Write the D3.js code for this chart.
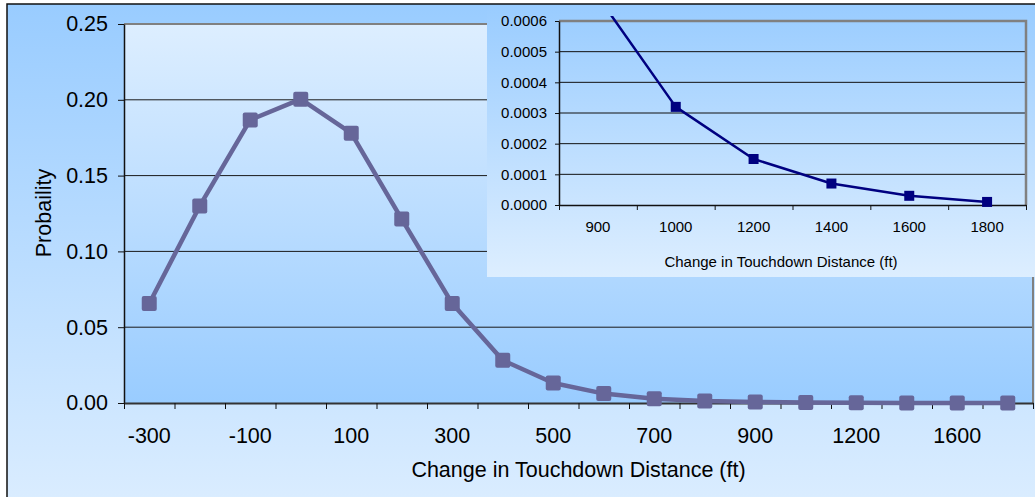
<!DOCTYPE html>
<html>
<head>
<meta charset="utf-8">
<script src="https://cdn.jsdelivr.net/npm/d3@7"></script>
<style>
  body { margin: 0; background: #ffffff; }
  svg { display: block; font-family: "Liberation Sans", Arial, sans-serif; }
</style>
</head>
<body>
<svg id="chart" width="1035" height="497"></svg>
<script>
// ---- Data ----
const categories = [-300, -200, -100, 0, 100, 200, 300, 400, 500, 600, 700, 800, 900, 1000, 1200, 1400, 1600, 1800];
const probability = [0.0656, 0.130, 0.1867, 0.2004, 0.178, 0.1213, 0.0656, 0.0282, 0.0132, 0.0062, 0.0028, 0.0013, 0.00068, 0.00032, 0.00015, 0.00007, 0.00003, 0.00001];
const yTicks = [0, 0.05, 0.10, 0.15, 0.20, 0.25];
const xLabelCats = [-300, -100, 100, 300, 500, 700, 900, 1200, 1600];

const insetCategories = [900, 1000, 1200, 1400, 1600, 1800];
const insetProbability = [0.00068, 0.00032, 0.00015, 0.00007, 0.00003, 0.00001];
const insetYTicks = [0, 0.0001, 0.0002, 0.0003, 0.0004, 0.0005, 0.0006];

const xTitle = "Change in Touchdown Distance (ft)";
const yTitle = "Probaility";

// ---- Setup ----
const FS = 21.5, IFS = 15;
const svg = d3.select("#chart");
const defs = svg.append("defs");

function vGrad(id, top, bottom) {
  const g = defs.append("linearGradient").attr("id", id)
    .attr("x1", 0).attr("y1", 0).attr("x2", 0).attr("y2", 1);
  g.append("stop").attr("offset", "0%").attr("stop-color", top);
  g.append("stop").attr("offset", "100%").attr("stop-color", bottom);
}
vGrad("chartBg", "#99ccff", "#ddeeff");
vGrad("plotBg", "#ddeeff", "#99ccff");
vGrad("insetBg", "#99ccff", "#ddeeff");

// Main chart area
svg.append("rect").attr("x", 7).attr("y", 4).attr("width", 1100).attr("height", 520)
  .attr("fill", "url(#chartBg)").attr("stroke", "#111").attr("stroke-width", 1.5);

const M = { left: 124, right: 1033, top: 24, bottom: 403 };
const x = d3.scaleBand().domain(categories).range([M.left, M.right]).padding(0);
const y = d3.scaleLinear().domain([0, 0.25]).range([M.bottom, M.top]);

svg.append("rect").attr("x", M.left).attr("y", M.top)
  .attr("width", M.right - M.left).attr("height", M.bottom - M.top)
  .attr("fill", "url(#plotBg)");

// gridlines
svg.append("g").selectAll("line").data(yTicks.filter(d => d > 0 && d < 0.25)).join("line")
  .attr("x1", M.left).attr("x2", M.right)
  .attr("y1", d => y(d)).attr("y2", d => y(d))
  .attr("stroke", "#1a1a1a").attr("stroke-width", 1);
// top & right border
svg.append("path")
  .attr("d", `M${M.left},${M.top}H${M.right}V${M.bottom}`)
  .attr("fill", "none").attr("stroke", "#808080").attr("stroke-width", 2);

// y axis
const yAxis = svg.append("g").attr("transform", `translate(${M.left},0)`)
  .call(d3.axisLeft(y).tickValues(yTicks).tickFormat(d3.format(".2f")).tickSize(6).tickPadding(10).tickSizeOuter(0));
yAxis.select(".domain").attr("stroke", "#111").attr("stroke-width", 1.5);
yAxis.selectAll(".tick line").attr("stroke", "#111");
yAxis.selectAll("text").attr("font-size", FS).attr("fill", "#000").attr("font-family", "Liberation Sans, Arial, sans-serif");

// x axis: boundary ticks
const xi = d3.scaleLinear().domain([0, categories.length]).range([M.left, M.right]);
const xTickAxis = svg.append("g").attr("transform", `translate(0,${M.bottom})`)
  .call(d3.axisBottom(xi).tickValues(d3.range(categories.length + 1)).tickFormat("").tickSize(6).tickSizeOuter(0));
xTickAxis.select(".domain").attr("stroke", "#333").attr("stroke-width", 2);
xTickAxis.selectAll(".tick line").attr("stroke", "#111");
// x axis labels
const xLab = svg.append("g").attr("transform", `translate(0,${M.bottom})`)
  .call(d3.axisBottom(x).tickValues(xLabelCats).tickSize(0).tickPadding(25));
xLab.select(".domain").remove();
xLab.selectAll("text").attr("font-size", FS).attr("fill", "#000").attr("font-family", "Liberation Sans, Arial, sans-serif");

// titles
svg.append("text").attr("x", (M.left + M.right) / 2).attr("y", 477)
  .attr("text-anchor", "middle").attr("font-size", FS).text(xTitle);
svg.append("text").attr("transform", "translate(51,213) rotate(-90)")
  .attr("text-anchor", "middle").attr("font-size", FS).text(yTitle);

// main line
const cx = d => x(d) + x.bandwidth() / 2;
const mainData = categories.map((c, i) => ({ c, v: probability[i] }));
svg.append("path").datum(mainData)
  .attr("d", d3.line().x(d => cx(d.c)).y(d => y(d.v)))
  .attr("fill", "none").attr("stroke", "#666699").attr("stroke-width", 4.5).attr("stroke-linejoin", "round");
svg.append("g").selectAll("rect").data(mainData).join("rect")
  .attr("x", d => cx(d.c) - 7.5).attr("y", d => y(d.v) - 7.5)
  .attr("width", 15).attr("height", 15).attr("rx", 2)
  .attr("fill", "#666699");

// ---- Inset ----
const inset = svg.append("g");
inset.append("rect").attr("x", 487).attr("y", 5).attr("width", 600).attr("height", 272)
  .attr("fill", "url(#insetBg)");

const I = { left: 559, right: 1026, top: 21, bottom: 205 };
const xs = d3.scaleBand().domain(insetCategories).range([I.left, I.right]).padding(0);
const ys = d3.scaleLinear().domain([0, 0.0006]).range([I.bottom, I.top]);

inset.append("g").selectAll("line").data(insetYTicks.filter(d => d > 0 && d < 0.0006)).join("line")
  .attr("x1", I.left).attr("x2", I.right)
  .attr("y1", d => ys(d)).attr("y2", d => ys(d))
  .attr("stroke", "#111").attr("stroke-width", 1);
inset.append("path")
  .attr("d", `M${I.left},${I.top}H${I.right}V${I.bottom}`)
  .attr("fill", "none").attr("stroke", "#808080").attr("stroke-width", 2.5);

const iy = inset.append("g").attr("transform", `translate(${I.left},0)`)
  .call(d3.axisLeft(ys).tickValues(insetYTicks).tickFormat(d3.format(".4f")).tickSize(4).tickPadding(8).tickSizeOuter(0));
iy.select(".domain").attr("stroke", "#111").attr("stroke-width", 1.5);
iy.selectAll(".tick line").attr("stroke", "#111");
iy.selectAll("text").attr("font-size", IFS).attr("fill", "#000").attr("font-family", "Liberation Sans, Arial, sans-serif");

const xsi = d3.scaleLinear().domain([0, insetCategories.length]).range([I.left, I.right]);
const ixt = inset.append("g").attr("transform", `translate(0,${I.bottom})`)
  .call(d3.axisBottom(xsi).tickValues(d3.range(insetCategories.length + 1)).tickFormat("").tickSize(5).tickSizeOuter(0));
ixt.select(".domain").attr("stroke", "#111").attr("stroke-width", 1.5);
ixt.selectAll(".tick line").attr("stroke", "#111");
const ixl = inset.append("g").attr("transform", `translate(0,${I.bottom})`)
  .call(d3.axisBottom(xs).tickSize(0).tickPadding(16));
ixl.select(".domain").remove();
ixl.selectAll("text").attr("font-size", IFS).attr("fill", "#000").attr("font-family", "Liberation Sans, Arial, sans-serif");

inset.append("text").attr("x", 781).attr("y", 267)
  .attr("text-anchor", "middle").attr("font-size", IFS).text(xTitle);

defs.append("clipPath").attr("id", "insetClip").append("rect")
  .attr("x", I.left).attr("y", 16).attr("width", I.right - I.left).attr("height", I.bottom - 16 + 10);
const insetData = insetCategories.map((c, i) => ({ c, v: insetProbability[i] }));
const icx = d => xs(d) + xs.bandwidth() / 2;
const ig = inset.append("g").attr("clip-path", "url(#insetClip)");
ig.append("path").datum(insetData)
  .attr("d", d3.line().x(d => icx(d.c)).y(d => ys(d.v)))
  .attr("fill", "none").attr("stroke", "#000080").attr("stroke-width", 2.5).attr("stroke-linejoin", "round");
ig.selectAll("rect").data(insetData).join("rect")
  .attr("x", d => icx(d.c) - 5).attr("y", d => ys(d.v) - 5)
  .attr("width", 10).attr("height", 10)
  .attr("fill", "#000080");
</script>
</body>
</html>
